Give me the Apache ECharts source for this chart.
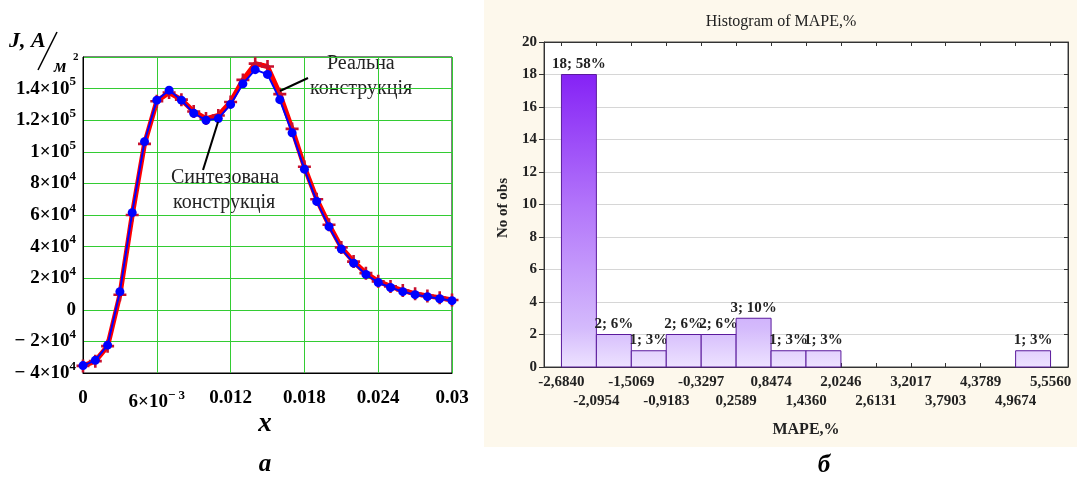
<!DOCTYPE html>
<html><head><meta charset="utf-8">
<script src="https://cdn.jsdelivr.net/npm/echarts@6/dist/echarts.min.js"></script>
<style>html,body{margin:0;padding:0;background:#fff}#c{width:1077px;height:477px}</style>
</head><body><div id="c"></div>
<script>
// ---- Left chart data (a) ----
const xValues = [0,0.001,0.002,0.003,0.004,0.005,0.006,0.007,0.008,0.009,0.010,0.011,0.012,0.013,0.014,0.015,
  0.016,0.017,0.018,0.019,0.020,0.021,0.022,0.023,0.024,0.025,0.026,0.027,0.028,0.029,0.030];
const realJ = [-35500,-32500,-23000,9500,60000,105000,132000,137500,133000,125500,121000,123000,131500,145500,155800,154000,
  136500,114500,90500,70000,53800,39500,30500,23200,18000,14800,12200,10200,8800,7600,6200];
const synthJ = [-35300,-32000,-22400,11500,61500,106400,132700,139000,132700,124400,120000,121000,130000,143000,152000,149000,
  133000,112000,89000,68600,52600,38500,29500,22400,17300,14100,11500,9600,8300,7000,5800];
const xTickLabels = ['0','6×10{s|− 3}','0.012','0.018','0.024','0.03'];
const yTickLabels = ['− 4×10{s|4}','− 2×10{s|4}','0','2×10{s|4}','4×10{s|4}','6×10{s|4}','8×10{s|4}',
  '1×10{s|5}','1.2×10{s|5}','1.4×10{s|5}',''];

// ---- Right chart data (б) ----
const binEdges = [-2.6840,-2.0954,-1.5069,-0.9183,-0.3297,0.2589,0.8474,1.4360,2.0246,2.6131,3.2017,3.7903,4.3789,4.9674,5.5560];
const binEdgeLabels = ['-2,6840','-2,0954','-1,5069','-0,9183','-0,3297','0,2589','0,8474','1,4360','2,0246','2,6131','3,2017','3,7903','4,3789','4,9674','5,5560'];
const binCounts = [18,2,1,2,2,3,1,1,0,0,0,0,0,1];

const total = binCounts.reduce((a,b)=>a+b,0);
const histData = [];
binCounts.forEach((c,i)=>{ if(c>0) histData.push([binEdges[i], binEdges[i+1], c, c+'; '+Math.round(c/total*100)+'%']); });
const evenEdges = binEdges.filter((v,i)=>i%2===0);
const oddEdges = binEdges.filter((v,i)=>i%2===1);
function edgeLabel(v){ let k=0,d=1e9; binEdges.forEach((e,i)=>{ if(Math.abs(e-v)<d){d=Math.abs(e-v);k=i;} }); return binEdgeLabels[k]; }

const serif = '"Liberation Serif","DejaVu Serif",serif';
const green = '#33cc33';
const supRich = { s: { fontSize: 13, fontWeight: 'bold', fontFamily: serif, color: '#000', padding: [0,0,13,0] } };

const chart = echarts.init(document.getElementById('c'), null, {renderer:'canvas'});
chart.setOption({
  animation: false,
  backgroundColor: '#fff',
  grid: [
    { left: 83, right: 625, top: 57, bottom: 104, show: true, borderColor: '#000', borderWidth: 1, backgroundColor: '#fff' },
    { left: 544, right: 9, top: 42, bottom: 110, show: true, borderColor: '#444', borderWidth: 1, backgroundColor: '#fff' }
  ],
  xAxis: [
    { gridIndex: 0, type: 'value', min: 0, max: 0.03, interval: 0.006,
      axisLine: { show: true, onZero: false, lineStyle: { color: '#000' } }, axisTick: { show: false },
      splitLine: { show: true, lineStyle: { color: green, width: 1 } },
      axisLabel: { margin: 16, fontSize: 19, fontWeight: 'bold', fontFamily: serif, color: '#000',
        formatter: (v, i) => xTickLabels[i] ?? '', rich: supRich } },
    { gridIndex: 1, type: 'value', min: -2.978, max: 5.850, position: 'bottom',
      axisLine: { show: true, onZero: false, lineStyle: { color: '#333' } },
      axisTick: { show: true, inside: true, length: 4, customValues: binEdges, lineStyle: { color: '#333' } },
      splitLine: { show: false },
      axisLabel: { margin: 8, fontSize: 15, fontWeight: 'bold', fontFamily: serif, color: '#222',
        customValues: evenEdges, formatter: v => edgeLabel(v) } },
    { gridIndex: 1, type: 'value', min: -2.978, max: 5.850, position: 'bottom',
      axisLine: { show: false, onZero: false }, axisTick: { show: false }, splitLine: { show: false },
      axisLabel: { margin: 27, fontSize: 15, fontWeight: 'bold', fontFamily: serif, color: '#222',
        customValues: oddEdges, formatter: v => edgeLabel(v) } },
    { gridIndex: 1, type: 'value', min: -2.978, max: 5.850, position: 'top',
      axisLine: { show: true, onZero: false, lineStyle: { color: '#333' } },
      axisTick: { show: true, inside: true, length: 4, customValues: binEdges, lineStyle: { color: '#333' } },
      splitLine: { show: false }, axisLabel: { show: false } }
  ],
  yAxis: [
    { gridIndex: 0, type: 'value', min: -40000, max: 160000, interval: 20000,
      axisLine: { show: true, onZero: false, lineStyle: { color: '#000' } }, axisTick: { show: false },
      splitLine: { show: true, lineStyle: { color: green, width: 1 } },
      axisLabel: { margin: 7, fontSize: 19, fontWeight: 'bold', fontFamily: serif, color: '#000',
        formatter: (v, i) => yTickLabels[i] ?? '', rich: supRich } },
    { gridIndex: 1, type: 'value', min: 0, max: 20, interval: 2, position: 'left',
      axisLine: { show: true, onZero: false, lineStyle: { color: '#333' } },
      axisTick: { show: true, inside: false, length: 5, lineStyle: { color: '#333' } },
      splitLine: { show: true, lineStyle: { color: '#d6d6d6', width: 1 } },
      axisLabel: { margin: 7, fontSize: 15, fontWeight: 'bold', fontFamily: serif, color: '#222' } },
    { gridIndex: 1, type: 'value', min: 0, max: 20, interval: 2, position: 'right',
      axisLine: { show: true, onZero: false, lineStyle: { color: '#333' } },
      axisTick: { show: true, inside: true, length: 4, lineStyle: { color: '#333' } },
      splitLine: { show: false }, axisLabel: { show: false } }
  ],
  series: [
    { type: 'line', xAxisIndex: 0, yAxisIndex: 0, name: 'Реальна конструкція',
      data: xValues.map((x,i)=>[x, realJ[i]]),
      lineStyle: { color: '#ff0000', width: 5 }, showAllSymbol: true,
      symbol: 'path://M4,0H6V4H10V6H6V10H4V6H0V4H4Z', symbolSize: 13,
      itemStyle: { color: '#c8102e' }, z: 2 },
    { type: 'line', xAxisIndex: 0, yAxisIndex: 0, name: 'Синтезована конструкція',
      data: xValues.map((x,i)=>[x, synthJ[i]]),
      lineStyle: { color: '#0000ff', width: 2 }, showAllSymbol: true,
      symbol: 'circle', symbolSize: 9, itemStyle: { color: '#0000ff' }, z: 3 },
    { type: 'custom', xAxisIndex: 1, yAxisIndex: 1, data: histData,
      encode: { x: [0,1], y: 2 },
      renderItem: function(params, api){
        const x0 = api.value(0), x1 = api.value(1), c = api.value(2);
        const p0 = api.coord([x0, c]);
        const p1 = api.coord([x1, 0]);
        const top = api.coord([x0, 20])[1];
        const label = histData[params.dataIndex][3];
        return { type: 'group', children: [
          { type: 'rect', shape: { x: p0[0], y: p0[1], width: p1[0]-p0[0], height: p1[1]-p0[1] },
            style: { fill: new echarts.graphic.LinearGradient(0, top, 0, p1[1], [
              { offset: 0, color: '#7a0ef4' }, { offset: 0.5, color: '#b274fa' },
              { offset: 0.88, color: '#d4bafc' }, { offset: 1, color: '#ede2ff' }], true),
              stroke: '#5a1a9c', lineWidth: 1 } },
          { type: 'text', x: (p0[0]+p1[0])/2, y: p0[1]-3,
            style: { text: label, align: 'center', verticalAlign: 'bottom',
              font: 'bold 15px ' + serif, fill: '#222' } }
        ]};
      }, z: 3 }
  ],
  graphic: [
    { type: 'rect', z: -10, shape: { x: 484, y: 0, width: 593, height: 447 }, style: { fill: '#fdf8ec' } },
    // left chart annotations
    { type: 'text', x: 9, y: 41, style: { text: 'J, A', font: 'italic bold 22px ' + serif, fill: '#000', verticalAlign: 'middle' } },
    { type: 'line', shape: { x1: 38, y1: 70, x2: 57, y2: 32 }, style: { stroke: '#000', lineWidth: 1.5 } },
    { type: 'text', x: 54, y: 67, style: { text: 'м', font: 'italic bold 18px ' + serif, fill: '#000', verticalAlign: 'middle' } },
    { type: 'text', x: 73, y: 57, style: { text: '2', font: 'bold 11px ' + serif, fill: '#000', verticalAlign: 'middle' } },
    { type: 'text', x: 327, y: 64, style: { text: 'Реальна', font: '20px ' + serif, fill: '#222', verticalAlign: 'middle' } },
    { type: 'text', x: 310, y: 89, style: { text: 'конструкція', font: '20px ' + serif, fill: '#222', verticalAlign: 'middle' } },
    { type: 'text', x: 171, y: 178, style: { text: 'Синтезована', font: '20px ' + serif, fill: '#222', verticalAlign: 'middle' } },
    { type: 'text', x: 173, y: 203, style: { text: 'конструкція', font: '20px ' + serif, fill: '#222', verticalAlign: 'middle' } },
    { type: 'line', z: 10, shape: { x1: 280, y1: 91, x2: 308, y2: 78 }, style: { stroke: '#000', lineWidth: 2 } },
    { type: 'line', z: 10, shape: { x1: 218, y1: 122, x2: 203, y2: 170 }, style: { stroke: '#000', lineWidth: 2 } },
    { type: 'text', x: 265, y: 424, style: { text: 'x', font: 'italic bold 27px ' + serif, fill: '#000', align: 'center', verticalAlign: 'middle' } },
    { type: 'text', x: 265, y: 465, style: { text: 'а', font: 'italic bold 25px ' + serif, fill: '#000', align: 'center', verticalAlign: 'middle' } },
    // right chart texts
    { type: 'text', x: 781, y: 22, style: { text: 'Histogram of MAPE,%', font: '16px ' + serif, fill: '#222', align: 'center', verticalAlign: 'middle' } },
    { type: 'text', x: 503, y: 208, rotation: Math.PI/2, style: { text: 'No of obs', font: 'bold 15px ' + serif, fill: '#222', align: 'center', verticalAlign: 'middle' } },
    { type: 'text', x: 806, y: 430, style: { text: 'MAPE,%', font: 'bold 16px ' + serif, fill: '#222', align: 'center', verticalAlign: 'middle' } },
    { type: 'text', x: 824, y: 466, style: { text: 'б', font: 'italic bold 25px ' + serif, fill: '#000', align: 'center', verticalAlign: 'middle' } }
  ]
});
</script></body></html>
